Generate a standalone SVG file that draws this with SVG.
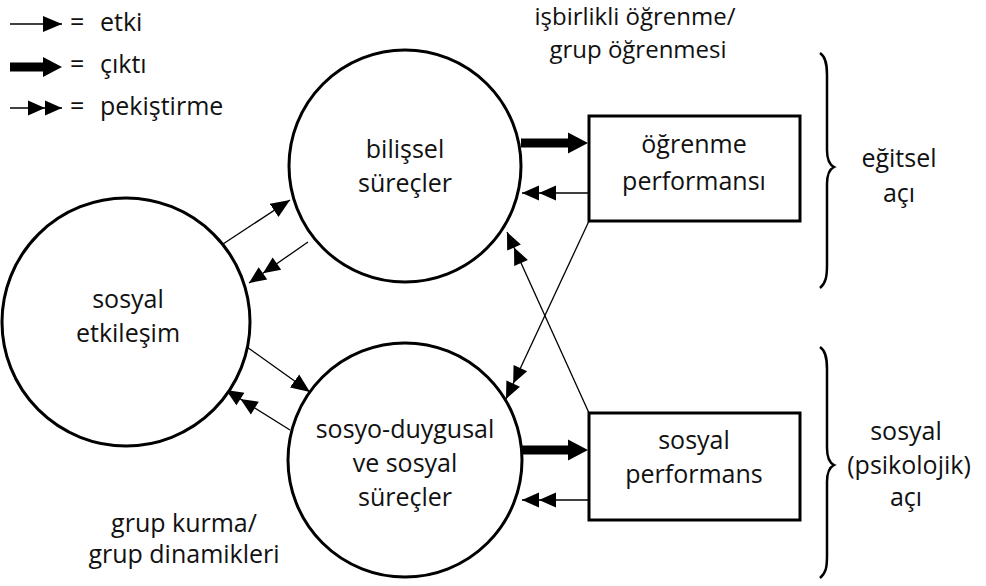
<svg xmlns="http://www.w3.org/2000/svg" width="986" height="586" viewBox="0 0 986 586">
<style>
  .t { font-family: "Open Sans", "Noto Sans", sans-serif; font-size: 25px; fill: #111; text-anchor: middle; }
  .ts { font-size: 24px; }
  .tl { font-family: "Open Sans", "Noto Sans", sans-serif; font-size: 25px; fill: #111; }
  .node { fill: #fff; stroke: #000; stroke-width: 3; }
  .thin { stroke: #000; stroke-width: 1.3; fill: none; }
  .cikti { fill: #000; stroke: none; }
  .brace { stroke: #000; stroke-width: 2.5; fill: none; }
</style>
<defs>
  <marker id="etki" markerUnits="userSpaceOnUse" markerWidth="20" markerHeight="18" viewBox="-19 -9 20 18" refX="0" refY="0" orient="auto">
    <path d="M0,0 L-19,-8 L-19,8 Z" fill="#000"/>
  </marker>
  <marker id="pek" markerUnits="userSpaceOnUse" markerWidth="38" markerHeight="18" viewBox="-37 -9 38 18" refX="0" refY="0" orient="auto">
    <path d="M0,0 L-17,-7.5 L-17,7.5 Z M-17,0 L-34,-7.5 L-34,7.5 Z" fill="#000"/>
  </marker>
  <path id="cikti-arrow" d="M0,-4.5 L47,-4.5 L47,-10.5 L67,0 L47,10.5 L47,4.5 L0,4.5 Z"/>
</defs>

<g id="legend">
  <line class="thin" x1="10" y1="24" x2="62" y2="24" marker-end="url(#etki)"/>
  <path class="cikti" d="M10,62.5 L43,62.5 L43,57 L62,67 L43,77 L43,71.5 L10,71.5 Z"/>
  <line class="thin" x1="10" y1="108" x2="62" y2="108" marker-end="url(#pek)"/>
  <text class="tl" y="31"><tspan x="70">=</tspan><tspan x="100">etki</tspan></text>
  <text class="tl" y="73"><tspan x="70">=</tspan><tspan x="100">çıktı</tspan></text>
  <text class="tl" y="115"><tspan x="70">=</tspan><tspan x="100">pekiştirme</tspan></text>
</g>

<g id="connectors">
  <!-- outputs -->
  <use href="#cikti-arrow" class="cikti" x="521" y="143"/>
  <use href="#cikti-arrow" class="cikti" x="521" y="450"/>
  <!-- reinforcement from boxes -->
  <line class="thin" x1="589" y1="193" x2="522" y2="193" marker-end="url(#pek)"/>
  <line class="thin" x1="589" y1="500" x2="522" y2="500" marker-end="url(#pek)"/>
  <!-- crossing -->
  <line class="thin" x1="589" y1="221" x2="506" y2="399" marker-end="url(#pek)"/>
  <line class="thin" x1="589" y1="413" x2="507" y2="232" marker-end="url(#pek)"/>
  <!-- left side -->
  <line class="thin" x1="223" y1="244" x2="290" y2="200" marker-end="url(#etki)"/>
  <line class="thin" x1="308" y1="242" x2="249" y2="283" marker-end="url(#pek)"/>
  <line class="thin" x1="247" y1="347" x2="310" y2="392" marker-end="url(#etki)"/>
  <line class="thin" x1="290" y1="430" x2="226" y2="390" marker-end="url(#pek)"/>
</g>

<g id="bilissel">
  <circle class="node" cx="405" cy="166" r="116"/>
  <text class="t" x="405" y="158">bilişsel</text>
  <text class="t" x="405" y="192">süreçler</text>
</g>

<g id="sosyal-etkilesim">
  <circle class="node" cx="126" cy="322" r="124"/>
  <text class="t" x="128" y="308">sosyal</text>
  <text class="t" x="128" y="342">etkileşim</text>
</g>

<g id="sosyo-duygusal">
  <circle class="node" cx="405" cy="460" r="117"/>
  <text class="t" x="405" y="438">sosyo-duygusal</text>
  <text class="t" x="405" y="472">ve sosyal</text>
  <text class="t" x="405" y="506">süreçler</text>
</g>

<g id="ogrenme-performansi">
  <rect class="node" x="589" y="116" width="211" height="105"/>
  <text class="t" x="694" y="153">öğrenme</text>
  <text class="t" x="694" y="190">performansı</text>
</g>

<g id="sosyal-performans">
  <rect class="node" x="589" y="413" width="211" height="107"/>
  <text class="t" x="694" y="449">sosyal</text>
  <text class="t" x="694" y="483">performans</text>
</g>

<g id="labels">
  <text class="t ts" x="635" y="25">işbirlikli öğrenme/</text>
  <text class="t ts" x="638" y="58">grup öğrenmesi</text>
  <text class="t" x="184" y="532">grup kurma/</text>
  <text class="t" x="184" y="563">grup dinamikleri</text>
  <text class="t" x="899" y="167">eğitsel</text>
  <text class="t" x="899" y="202">açı</text>
  <text class="t" x="906" y="440">sosyal</text>
  <text class="t" x="909" y="474">(psikolojik)</text>
  <text class="t" x="906" y="506">açı</text>
</g>

<g id="braces">
  <path class="brace" d="M820,53 C826,57 827,65 827,75 L827,150 C827,160 830,165 834,167 C830,169 827,174 827,184 L827,265 C827,276 826,283 820,288"/>
  <path class="brace" d="M820,347 C826,351 827,359 827,369 L827,448 C827,458 830,463 834,465 C830,467 827,472 827,482 L827,556 C827,567 826,573 820,578"/>
</g>
</svg>
